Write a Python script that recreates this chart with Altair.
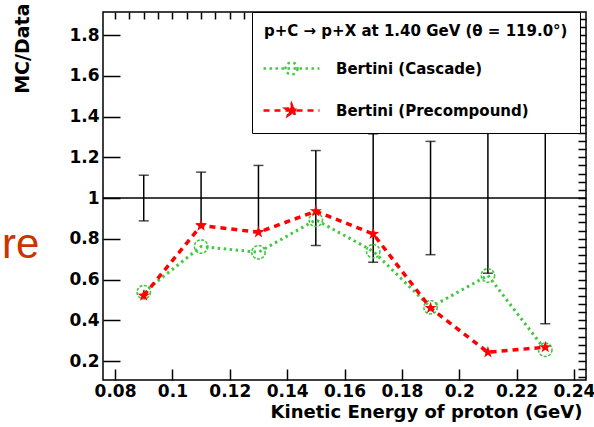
import math
import altair as alt
import pandas as pd

# ---------------- data ----------------
energy = [0.09, 0.11, 0.13, 0.15, 0.17, 0.19, 0.21, 0.23]
cascade = [0.538, 0.762, 0.734, 0.893, 0.739, 0.464, 0.620, 0.255]
precompound = [0.521, 0.865, 0.832, 0.935, 0.824, 0.460, 0.243, 0.268]
data_err = [0.112, 0.127, 0.160, 0.233, 0.315, 0.278, 0.369, 0.617]
unity = [1.0]

series_names = ["Bertini (Cascade)", "Bertini (Precompound)"]
legend_title = "p+C \u2192 p+X at 1.40 GeV (\u03b8 = 119.0\u00b0)\u00a0"
x_title = "Kinetic Energy of proton (GeV)"
y_title = "MC/Data"
side_text = "re"

x_major = [0.08, 0.1, 0.12, 0.14, 0.16, 0.18, 0.2, 0.22, 0.24]
x_minor = [round(0.08 + 0.005 * i, 3) for i in range(33)]
y_major = [0.2, 0.4, 0.6, 0.8, 1.0, 1.2, 1.4, 1.6, 1.8]
y_minor = [round(0.12 + 0.04 * i, 2) for i in range(45)]

# ---------------- styles ----------------
GREEN = "#44c844"
RED = "#ff0000"
FONT = "DejaVu Sans"
W, H = 483, 368


def star_path(cx, r, inner=0.4):
    pts = []
    for k in range(10):
        ang = math.radians(-90 + 36 * k)
        rr = r if k % 2 == 0 else r * inner
        pts.append((cx + rr * math.cos(ang), rr * math.sin(ang)))
    return "M" + "L".join(f"{x:.3f},{y:.3f}" for x, y in pts) + "Z"


STAR = star_path(0, 1)
LEG_LINE = "M-1.2,0L4.4,0"
LEG_CASCADE = LEG_LINE + "M2.2,0A0.6,0.6,0,1,1,1.0,0A0.6,0.6,0,1,1,2.2,0Z"
LEG_PRECOMP = LEG_LINE + star_path(1.6, 0.62)

df_err = pd.DataFrame({
    "energy": energy,
    "lo": [1 - e for e in data_err],
    "hi": [1 + e for e in data_err],
})
df_ref = pd.DataFrame({"ref": unity})
df_models = pd.DataFrame({
    "energy": energy + energy,
    "ratio": cascade + precompound,
    "model": [series_names[0]] * len(energy) + [series_names[1]] * len(energy),
})
df_cas = df_models[df_models["model"] == series_names[0]]
df_pre = df_models[df_models["model"] == series_names[1]]
df_text = pd.DataFrame({"t": [side_text]})

x_scale = alt.Scale(domain=[0.0758, 0.2442], nice=False, zero=False)
y_scale = alt.Scale(domain=[0.107, 1.913], nice=False, zero=False)

label_style = dict(labelFont=FONT, labelFontSize=17, labelFontWeight="bold",
                   labelColor="black", labelOverlap=False, labelFlush=False,
                   tickColor="black", tickWidth=1.5, domain=False, grid=False)

x_major_axis = alt.Axis(values=x_major, format="~g", offset=-11, tickSize=11,
                        labelPadding=3, title=x_title, titleFont=FONT,
                        titleFontSize=18, titleFontWeight="bold", titleColor="black",
                        titleAlign="right", titleBaseline="alphabetic",
                        titleX=479, titleY=48, **label_style)
y_major_axis = alt.Axis(values=y_major, format="~g", offset=-17, tickSize=17,
                        labelPadding=4, title=y_title, titleFont=FONT,
                        titleFontSize=19, titleFontWeight="bold", titleColor="black",
                        titleAngle=270, titleAlign="right", titleBaseline="alphabetic",
                        titleX=-92, titleY=-9, **label_style)
x_minor_axis = alt.Axis(values=x_minor, offset=-7, tickSize=7, labels=False,
                        title=None, tickColor="black", tickWidth=1.5,
                        domain=False, grid=False)
y_minor_axis = alt.Axis(values=y_minor, offset=-8, tickSize=8, labels=False,
                        title=None, tickColor="black", tickWidth=1.5,
                        domain=False, grid=False)

X = lambda f, ax=None: alt.X(f, type="quantitative", scale=x_scale, axis=ax)
Y = lambda f, ax=None: alt.Y(f, type="quantitative", scale=y_scale, axis=ax)

ref_line = alt.Chart(df_ref).mark_rule(color="black", strokeWidth=1.5).encode(
    y=Y("ref"))

err_rule = alt.Chart(df_err).mark_rule(color="black", strokeWidth=1.5).encode(
    x=X("energy", x_major_axis), y=Y("lo", y_major_axis), y2="hi")
cap_lo = alt.Chart(df_err).mark_tick(color="black", orient="horizontal",
                                      size=10, thickness=1.5).encode(
    x=X("energy"), y=Y("lo"))
cap_hi = alt.Chart(df_err).mark_tick(color="black", orient="horizontal",
                                      size=10, thickness=1.5).encode(
    x=X("energy"), y=Y("hi"))

minor_axes = alt.Chart(df_models).mark_point(opacity=0).encode(
    x=X("energy", x_minor_axis), y=Y("ratio", y_minor_axis))

cas_line = alt.Chart(df_cas).mark_line(color=GREEN, strokeWidth=3,
                                       strokeDash=[2.5, 3.5]).encode(
    x=X("energy"), y=Y("ratio"))
cas_pts = alt.Chart(df_cas).mark_point(shape="circle", size=180, filled=False,
                                       color=GREEN, strokeWidth=1.6,
                                       strokeDash=[3, 1.5], opacity=1).encode(
    x=X("energy"), y=Y("ratio"))
pre_line = alt.Chart(df_pre).mark_line(color=RED, strokeWidth=3.5,
                                       strokeDash=[6, 5]).encode(
    x=X("energy"), y=Y("ratio"))
pre_pts = alt.Chart(df_pre).mark_point(shape=STAR, size=160, filled=True,
                                       color=RED, opacity=1).encode(
    x=X("energy"), y=Y("ratio"))

leg = alt.Legend(
    title=legend_title, orient="none", legendX=149, legendY=0,
    direction="vertical", fillColor="white", strokeColor="black", padding=12,
    titleFont=FONT, titleFontSize=15, titleFontWeight="bold", titleColor="black",
    titleLimit=600, titlePadding=18,
    labelFont=FONT, labelFontSize=15, labelFontWeight="bold", labelColor="black",
    labelLimit=400, labelOffset=49, symbolSize=400, symbolStrokeWidth=2.5,
    symbolOpacity=1, rowPadding=19,
)
legend_layer = alt.Chart(df_models).mark_point(opacity=0).encode(
    x=X("energy"), y=Y("ratio"),
    color=alt.Color("model:N", scale=alt.Scale(domain=series_names, range=[GREEN, RED]), legend=leg),
    shape=alt.Shape("model:N", scale=alt.Scale(domain=series_names, range=[LEG_CASCADE, LEG_PRECOMP]), legend=leg),
    strokeDash=alt.StrokeDash("model:N", scale=alt.Scale(domain=series_names, range=[[2.5, 3.5], [6, 5]]), legend=leg),
    fill=alt.Fill("model:N", scale=alt.Scale(domain=series_names, range=["transparent", RED]), legend=leg),
)

side = alt.Chart(df_text).mark_text(font="Liberation Sans", fontSize=42,
                                    color="#cc3300", align="left",
                                    baseline="alphabetic").encode(
    text="t:N", x=alt.value(-101), y=alt.value(246))

chart = alt.layer(
    ref_line, err_rule, cap_lo, cap_hi, minor_axes,
    cas_line, cas_pts, pre_line, pre_pts, legend_layer, side,
).resolve_axis(x="independent", y="independent").properties(
    width=W, height=H,
    autosize=alt.AutoSizeParams(type="none"),
    padding={"left": 103, "top": 12, "right": 8, "bottom": 47},
    background="white",
).configure_view(stroke="black", strokeWidth=1.5)

chart.save("out.html", embed_options={"renderer": "svg", "actions": False})
